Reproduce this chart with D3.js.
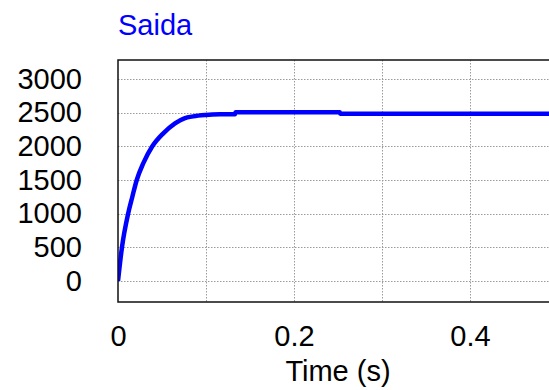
<!DOCTYPE html>
<html>
<head>
<meta charset="utf-8">
<script src="https://cdn.jsdelivr.net/npm/d3@7"></script>
<style>
  html, body { margin: 0; padding: 0; background: #fff; }
  svg { display: block; font-family: "Liberation Sans", Arial, sans-serif; }
</style>
</head>
<body>
<svg id="chart" width="549" height="390"></svg>
<script>
// step response
const times = [0, 0.0045, 0.0115, 0.0163, 0.0213, 0.0288, 0.039, 0.0515, 0.0648, 0.0754, 0.0856, 0.1, 0.116, 0.133, 0.1335, 0.252, 0.2525, 0.5];
const values = [0, 500, 1000, 1252, 1500, 1750, 2000, 2193, 2342, 2416, 2445, 2465, 2475, 2478, 2505, 2505, 2485, 2485];
const xTicks = [0, 0.2, 0.4];
const xGrid = [0, 0.1, 0.2, 0.3, 0.4, 0.5];
const yTicks = [0, 500, 1000, 1500, 2000, 2500, 3000];

const svg = d3.select('#chart');
const plotL = 118, plotR = 558, plotT = 60, plotB = 302;
const fontSize = 29;

const x = d3.scaleLinear().domain([0, 0.5]).range([plotL, plotR]);
const y = d3.scaleLinear().domain([-312, 3282]).range([plotB, plotT]);

svg.append('defs').append('clipPath').attr('id', 'plot')
  .append('rect').attr('x', plotL).attr('y', plotT).attr('width', plotR - plotL).attr('height', plotB - plotT);

// grid
const grid = svg.append('g').attr('stroke', '#9a9a9a').attr('stroke-width', 1).attr('stroke-dasharray', '1.5,1.5');
grid.selectAll('.gx').data(xGrid.slice(1)).enter().append('line')
  .attr('x1', d => Math.round(x(d)) + 0.5).attr('x2', d => Math.round(x(d)) + 0.5)
  .attr('y1', plotT).attr('y2', plotB);
grid.selectAll('.gy').data(yTicks).enter().append('line')
  .attr('x1', plotL).attr('x2', plotR)
  .attr('y1', d => Math.round(y(d)) + 0.5).attr('y2', d => Math.round(y(d)) + 0.5);

// data line
const data = times.map((t, i) => ({ t, v: values[i] }));
svg.append('path').datum(data)
  .attr('clip-path', 'url(#plot)')
  .attr('fill', 'none').attr('stroke', '#0000ff').attr('stroke-width', 4.5)
  .attr('d', d3.line().curve(d3.curveMonotoneX).x(d => x(d.t)).y(d => y(d.v)));

// frame (left, top, bottom)
svg.append('path')
  .attr('d', `M${plotR},${plotT}H${plotL}V${plotB}H${plotR}`)
  .attr('fill', 'none').attr('stroke', '#111').attr('stroke-width', 1.5);

// axes
const yAxis = svg.append('g').attr('transform', `translate(${plotL},0)`)
  .call(d3.axisLeft(y).tickValues(yTicks).tickSize(0).tickPadding(36).tickFormat(d3.format('d')));
yAxis.select('.domain').remove();
yAxis.selectAll('text').attr('font-size', fontSize).attr('fill', '#000').attr('font-family', 'Liberation Sans, Arial, sans-serif');

const xAxis = svg.append('g').attr('transform', `translate(0,${plotB})`)
  .call(d3.axisBottom(x).tickValues(xTicks).tickSize(0).tickPadding(23).tickFormat(d => d === 0 ? '0' : d3.format('.1f')(d)));
xAxis.select('.domain').remove();
xAxis.selectAll('text').attr('font-size', fontSize).attr('fill', '#000').attr('font-family', 'Liberation Sans, Arial, sans-serif');

// titles
svg.append('text').attr('x', plotL).attr('y', 35).attr('fill', '#0000ff')
  .attr('font-size', fontSize).text('Saida');
svg.append('text').attr('x', (plotL + plotR) / 2).attr('y', 381).attr('text-anchor', 'middle')
  .attr('font-size', fontSize).attr('fill', '#000').text('Time (s)');
</script>
</body>
</html>
